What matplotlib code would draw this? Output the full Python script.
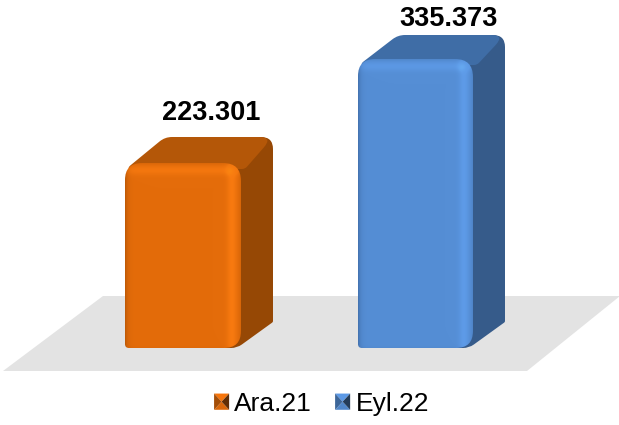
import numpy as np
import matplotlib
matplotlib.use("Agg")
import matplotlib.pyplot as plt
from matplotlib.patches import PathPatch, Polygon, Patch
from matplotlib.path import Path
from matplotlib.legend_handler import HandlerBase

categories = ["Ara.21", "Eyl.22"]
values = [223301, 335373]
value_labels = ["223.301", "335.373"]
front_colors = ["#E46C0A", "#558ED5"]
top_colors = ["#B45708", "#3F6DA6"]
side_colors = ["#964805", "#365B8A"]
bright_colors = ["#F87A10", "#5E9BE8"]
dark_colors = ["#B85706", "#416FAB"]

plt.rcParams["font.family"] = ["Liberation Sans", "DejaVu Sans"]

W, H = 619, 425
BASE_PX = 348.0
K = 104.0 / (values[1] - values[0])          # pixels per unit of value
V0 = values[0] - (BASE_PX - 163.0) / K       # value at the bar base

fig = plt.figure(figsize=(W / 100, H / 100), dpi=100)
ax = fig.add_axes([0, 0, 1, 1])
ax.set_xlim(0, W)
ax.set_ylim(V0 - (H - BASE_PX) / K, V0 + BASE_PX / K)
ax.axis("off")


def py(px):
    """vertical pixel position -> value axis"""
    return V0 + (BASE_PX - px) / K


def rounded(pts_radii):
    """closed path through corners (x, ypx, r) with rounded corners"""
    verts, codes = [], []
    n = len(pts_radii)
    for i, (x, y, r) in enumerate(pts_radii):
        p = np.array([x, y], float)
        a = np.array(pts_radii[i - 1][:2], float)
        b = np.array(pts_radii[(i + 1) % n][:2], float)
        u = (a - p) / np.linalg.norm(a - p)
        v = (b - p) / np.linalg.norm(b - p)
        s = p + u * r
        e = p + v * r
        verts.append(tuple(s))
        codes.append(Path.MOVETO if i == 0 else Path.LINETO)
        verts += [tuple(p), tuple(e)]
        codes += [Path.CURVE3, Path.CURVE3]
    verts.append(verts[0])
    codes.append(Path.CLOSEPOLY)
    verts = [(x, py(y)) for x, y in verts]
    return Path(verts, codes)


def hex_rgb(c):
    return np.array(matplotlib.colors.to_rgb(c))


def front_image(w, h, base, bright, dark):
    xs = np.arange(w) + 0.5
    ys = np.arange(h) + 0.5
    X, Yy = np.meshgrid(xs, ys)
    dl, dr = X, w - X
    dt, db = Yy, h - Yy
    hi = np.exp(-((dr - 9) / 5.0) ** 2) + 0.8 * np.exp(-((dt - 8) / 5.0) ** 2)
    hi = np.clip(hi, 0, 1) * np.clip(dr / 3, 0, 1)
    spot = np.exp(-(((dr - 11) ** 2 + (dt - 9) ** 2) / 16.0))
    shade = np.exp(-dl / 2.5) + 0.5 * np.exp(-dt / 2.0) + 0.35 * np.exp(-dr / 2.0) + 0.15 * np.exp(-db / 1.5)
    shade = np.clip(shade, 0, 1)
    img = base + hi[..., None] * (bright - base)
    img = img + spot[..., None] * 0.35 * (np.minimum(bright * 1.25, 1) - img)
    img = img + shade[..., None] * (dark - img)
    return np.clip(img, 0, 1)


# floor
floor_px = [(3, 371), (103, 296), (620, 296), (527, 371)]
ax.add_patch(Polygon([(x, py(y)) for x, y in floor_px], closed=True,
                     facecolor="#E3E3E3", edgecolor="none", zorder=1))

BAR_LEFT = [125.0, 358.0]
BAR_W = [116.0, 115.0]
DX = 32.0
TOP_DEPTH = [26.0, 24.0]
LABEL_X = [211.0, 448.5]
LABEL_PX = [113.0, 19.0]

for i, v in enumerate(values):
    x0 = BAR_LEFT[i]
    x1 = x0 + BAR_W[i]
    ytop = BASE_PX - (v - V0) * K
    DY = TOP_DEPTH[i]
    # side face
    side = rounded([(x1 - 16, ytop + 4, 1), (x1 + 2, ytop - DY, 1),
                    (x1 + DX, ytop - DY, 12), (x1 + DX, BASE_PX - 26, 1),
                    (x1 - 4, BASE_PX, 6), (x1 - 16, BASE_PX, 1)])
    ax.add_patch(PathPatch(side, facecolor=side_colors[i], edgecolor="none", zorder=3))
    # top face
    top = rounded([(x0 + 1, ytop + 6, 6), (x0 + 40, ytop - DY, 7),
                   (x1 + DX, ytop - DY, 14), (x1 + 4, ytop + 6, 3)])
    ax.add_patch(PathPatch(top, facecolor=top_colors[i], edgecolor="none", zorder=4))
    # front face with bevel shading
    fpath = rounded([(x0, ytop, 17), (x1, ytop, 18), (x1, BASE_PX, 17), (x0, BASE_PX, 4)])
    img = front_image(int(x1 - x0), int(BASE_PX - ytop),
                      hex_rgb(front_colors[i]), hex_rgb(bright_colors[i]), hex_rgb(dark_colors[i]))
    im = ax.imshow(img, extent=(x0, x1, V0, v), aspect="auto", origin="upper",
                   zorder=5, interpolation="bilinear")
    im.set_clip_path(PathPatch(fpath, transform=ax.transData))
    # value label
    ax.text(LABEL_X[i], py(LABEL_PX[i]), value_labels[i], ha="center", va="center",
            fontsize=19.5, fontweight="bold", color="black", zorder=6)

ax.set_xlim(0, W)
ax.set_ylim(V0 - (H - BASE_PX) / K, V0 + BASE_PX / K)


class Pyramid(HandlerBase):
    def create_artists(self, legend, orig, xd, yd, w, h, fs, trans):
        c = np.array(matplotlib.colors.to_rgb(orig.get_facecolor()))
        x0, y0, x1, y1 = -xd, -yd, -xd + w, -yd + h
        mx, my = (x0 + x1) / 2, (y0 + y1) / 2
        tris = [([(x0, y0), (x1, y0), (mx, my)], c * 0.95),
                ([(x0, y1), (x1, y1), (mx, my)], c * 1.08),
                ([(x0, y0), (x0, y1), (mx, my)], c * 0.72),
                ([(x1, y0), (x1, y1), (mx, my)], c * 0.42)]
        return [Polygon(p, closed=True, facecolor=np.clip(col, 0, 1), edgecolor="none",
                        transform=trans) for p, col in tris]


handles = [Patch(facecolor=c, label=l) for c, l in zip(front_colors, categories)]
leg = ax.legend(handles=handles, ncol=2, loc="center", frameon=False,
                bbox_to_anchor=(321.5 / W, 1 - 404 / H), fontsize=19,
                handler_map={Patch: Pyramid()}, handlelength=0.57, handleheight=0.57,
                handletextpad=0.2, columnspacing=0.87, borderpad=0, borderaxespad=0)

fig.savefig("out.png", dpi=100)
